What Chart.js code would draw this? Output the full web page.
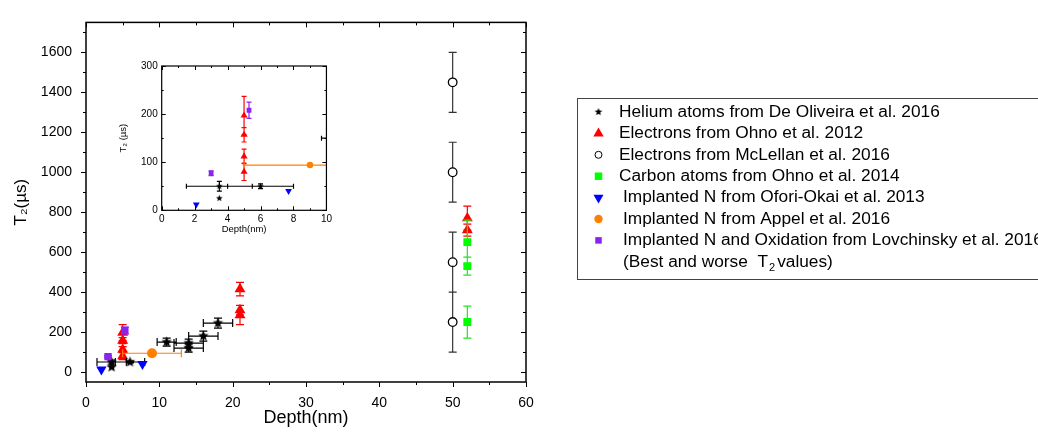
<!DOCTYPE html>
<html>
<head>
<meta charset="utf-8">
<script src="https://cdn.jsdelivr.net/npm/chart.js@4.4.1/dist/chart.umd.min.js"></script>
<style>
  body { margin: 0; background: #fff; }
  #wrap { position: relative; width: 1038px; height: 438px; }
  #main { position: absolute; left: 0; top: 0; }
  #inset { position: absolute; left: 110px; top: 55px; }
</style>
</head>
<body>
<div id="wrap">
  <canvas id="main" width="1038" height="438"></canvas>
  <canvas id="inset" width="225" height="190"></canvas>
</div>
<script>
const family = "'Liberation Sans', Arial, sans-serif";

// Helium atoms from De Oliveira et al. 2016
const heX = [3.5, 3.5, 6, 11, 14, 14, 16, 18];
const heY = [50, 25, 50, 150, 145, 120, 180, 245];
const heXErr = [2, 0, 2, 1.3, 2, 2, 2, 2];
const heYErr = [10, 0, 5, 20, 20, 20, 25, 25];
// Electrons from Ohno et al. 2012
const ohX = [5, 5, 5, 5, 21, 21, 21, 52, 52];
const ohY = [80, 112, 157, 197, 415, 310, 285, 770, 710];
const ohYErr = [18, 15, 15, 40, 34, 24, 48, 60, 30];
// Electrons from McLellan et al. 2016
const mcX = [50, 50, 50, 50];
const mcY = [1450, 1000, 550, 250];
const mcYErr = [150, 150, 150, 150];
// Carbon atoms from Ohno et al. 2014
const caX = [52, 52, 52];
const caY = [650, 530, 250];
const caYErr = [110, 45, 80];
// Implanted N from Ofori-Okai et al. 2013
const ofX = [2.1, 7.7];
const ofY = [12, 40];
// Implanted N from Appel et al. 2016
const apX = [9];
const apY = [94];
const apXErr = [4];
// Implanted N and Oxidation from Lovchinsky et al. 2016
const loX = [3, 5.3];
const loY = [77, 208];
const loYErr = [5, 17];

const legendLabels = [
  'Helium atoms from De Oliveira et al. 2016',
  'Electrons from Ohno et al. 2012',
  'Electrons from McLellan et al. 2016',
  'Carbon atoms from Ohno et al. 2014',
  'Implanted N from Ofori-Okai et al. 2013',
  'Implanted N from Appel et al. 2016',
  'Implanted N and Oxidation from Lovchinsky et al. 2016'
];

// axis ticks
const xTicks = [0, 10, 20, 30, 40, 50, 60];
const xMinor = [5, 15, 25, 35, 45, 55];
const yTicks = [0, 200, 400, 600, 800, 1000, 1200, 1400, 1600];
const yMinor = [100, 300, 500, 700, 900, 1100, 1300, 1500, 1700];
const inXTicks = [0, 2, 4, 6, 8, 10];
const inXMinor = [1, 3, 5, 7, 9];
const inYTicks = [0, 100, 200, 300];
const inYMinor = [50, 150, 250];

function pts(xs, ys, xe, ye) {
  return xs.map((x, i) => ({ x, y: ys[i], xe: xe ? xe[i] : 0, ye: ye ? ye[i] : 0 }));
}

function starImg(r) {
  const c = document.createElement('canvas');
  const s = Math.ceil(r * 2) + 2;
  c.width = c.height = s;
  const g = c.getContext('2d');
  g.fillStyle = '#000';
  g.beginPath();
  for (let i = 0; i < 10; i++) {
    const rr = i % 2 ? r * 0.45 : r;
    const a = -Math.PI / 2 + i * Math.PI / 5;
    g.lineTo(s / 2 + rr * Math.cos(a), s / 2 + rr * Math.sin(a));
  }
  g.closePath();
  g.fill();
  return c;
}

const series = [
  { data: pts(heX, heY, heXErr, heYErr), style: 'star', color: '#000', err: '#000', r: 5.5, lr: 4, order: 4 },
  { data: pts(ohX, ohY, null, ohYErr), style: 'triangle', color: '#ff0000', err: '#ff0000', r: 6.3, lr: 6, order: 6 },
  { data: pts(mcX, mcY, null, mcYErr), style: 'circle', color: '#fff', border: '#000', err: '#333', r: 4.3, lr: 3.5, order: 7 },
  { data: pts(caX, caY, null, caYErr), style: 'rect', color: '#00ff00', err: '#1ee61e', r: 5.6, lr: 5.3, order: 5 },
  { data: pts(ofX, ofY), style: 'triangle', rot: 180, color: '#0000ff', err: '#0000ff', r: 6, lr: 5.8, order: 3 },
  { data: pts(apX, apY, apXErr), style: 'circle', color: '#ff8000', err: '#ff8000', r: 5, lr: 4.2, order: 2 },
  { data: pts(loX, loY, null, loYErr), style: 'rect', color: '#8a22f0', err: '#8a22f0', r: 5.2, lr: 4.6, order: 1 }
];

function datasets(k, star) {
  return series.map((s, i) => ({
    label: legendLabels[i],
    data: s.data,
    order: s.order,
    pointStyle: s.style === 'star' ? star : s.style,
    pointRotation: s.rot || 0,
    pointRadius: s.r * k,
    pointHoverRadius: s.r * k,
    pointBackgroundColor: s.color,
    pointBorderColor: s.border || s.color,
    pointBorderWidth: s.border ? 1.3 : 0,
    errColor: s.err,
    showLine: false
  }));
}

const errorBars = {
  id: 'errorBars',
  beforeDatasetDraw(chart, args, opts) {
    const ds = chart.data.datasets[args.index];
    const { ctx, chartArea: a, scales: { x, y } } = chart;
    const c = opts.cap;
    ctx.save();
    ctx.beginPath();
    ctx.rect(a.left, a.top, a.right - a.left, a.bottom - a.top);
    ctx.clip();
    ctx.strokeStyle = ds.errColor;
    ctx.lineWidth = opts.width;
    ctx.beginPath();
    ds.data.forEach(p => {
      const px = x.getPixelForValue(p.x), py = y.getPixelForValue(p.y);
      if (p.xe) {
        const l = x.getPixelForValue(p.x - p.xe), r = x.getPixelForValue(p.x + p.xe);
        ctx.moveTo(l, py); ctx.lineTo(r, py);
        ctx.moveTo(l, py - c); ctx.lineTo(l, py + c);
        ctx.moveTo(r, py - c); ctx.lineTo(r, py + c);
      }
      if (p.ye) {
        const t = y.getPixelForValue(p.y + p.ye), b = y.getPixelForValue(p.y - p.ye);
        ctx.moveTo(px, t); ctx.lineTo(px, b);
        ctx.moveTo(px - c, t); ctx.lineTo(px + c, t);
        ctx.moveTo(px - c, b); ctx.lineTo(px + c, b);
      }
    });
    ctx.stroke();
    ctx.restore();
  }
};

// box around the plot plus major/minor ticks on all four sides
const frame = {
  id: 'frame',
  afterDraw(chart, args, o) {
    const { ctx, chartArea: a, scales: { x, y } } = chart;
    const out = o.outer ? -1 : 1;
    ctx.save();
    ctx.strokeStyle = '#000';
    ctx.lineWidth = 1;
    ctx.beginPath();
    const xt = (v, len) => {
      const p = Math.round(x.getPixelForValue(v)) + 0.5;
      ctx.moveTo(p, a.bottom); ctx.lineTo(p, a.bottom - out * len);
      ctx.moveTo(p, a.top); ctx.lineTo(p, a.top + len);
    };
    const yt = (v, len) => {
      const p = Math.round(y.getPixelForValue(v)) + 0.5;
      ctx.moveTo(a.left, p); ctx.lineTo(a.left + out * len, p);
      ctx.moveTo(a.right, p); ctx.lineTo(a.right - len, p);
    };
    o.xMajor.forEach(v => xt(v, o.len));
    o.xMinor.forEach(v => xt(v, o.minLen));
    o.yMajor.forEach(v => yt(v, o.len));
    o.yMinor.forEach(v => yt(v, o.minLen));
    ctx.stroke();
    ctx.lineWidth = o.lw;
    ctx.strokeRect(a.left, a.top, a.right - a.left, a.bottom - a.top);
    ctx.restore();
  }
};

const legendStar = starImg(4);
const legendBox = {
  id: 'legendBox',
  afterDraw(chart) {
    const ctx = chart.ctx;
    ctx.save();
    ctx.strokeStyle = '#444';
    ctx.lineWidth = 1;
    ctx.strokeRect(577.5, 98.5, 480, 181);
    ctx.font = '17.3px ' + family;
    ctx.textBaseline = 'middle';
    series.forEach((s, i) => {
      const yy = 112 + i * 21.4;
      ctx.fillStyle = s.color;
      ctx.strokeStyle = s.border || s.color;
      ctx.lineWidth = 1;
      Chart.helpers.drawPoint(ctx, {
        pointStyle: s.style === 'star' ? legendStar : s.style,
        radius: s.lr, rotation: s.rot || 0, borderWidth: s.border ? 1 : 0
      }, 598.5, yy);
      ctx.fillStyle = '#000';
      ctx.fillText(legendLabels[i], i < 4 ? 619 : 623, yy);
    });
    const yy = 112 + 7 * 21.4;
    let tx = 623;
    const first = '(Best and worse  T';
    ctx.fillText(first, tx, yy);
    tx += ctx.measureText(first).width + 1;
    ctx.font = '11px ' + family;
    ctx.fillText('2', tx, yy + 6);
    tx += ctx.measureText('2').width + 2;
    ctx.font = '17.3px ' + family;
    ctx.fillText('values)', tx, yy);
    ctx.restore();
  }
};

const tickFont = (s) => ({ size: s, family });
const plain = v => String(v);

new Chart(document.getElementById('main'), {
  type: 'scatter',
  data: { datasets: datasets(1, starImg(5.5)) },
  plugins: [errorBars, frame, legendBox],
  options: {
    responsive: false,
    animation: false,
    layout: { padding: { left: 0, top: 16, right: 512, bottom: 0 } },
    plugins: {
      legend: { display: false },
      tooltip: { enabled: false },
      errorBars: { width: 1.2, cap: 4 },
      frame: { outer: true, len: 5, minLen: 3, lw: 1.5, xMajor: xTicks, xMinor, yMajor: yTicks, yMinor }
    },
    scales: {
      x: {
        type: 'linear', min: 0, max: 60,
        afterBuildTicks: s => { s.ticks = xTicks.map(v => ({ value: v })); },
        afterFit: s => { s.height = 56; },
        grid: { display: false, drawTicks: false },
        border: { display: false },
        ticks: { color: '#000', font: tickFont(14), padding: 13, maxRotation: 0, callback: plain },
        title: { display: true, text: 'Depth(nm)', color: '#000', font: tickFont(18), padding: { top: 0, bottom: 9 } }
      },
      y: {
        type: 'linear', min: -50, max: 1750,
        afterBuildTicks: s => { s.ticks = yTicks.map(v => ({ value: v })); },
        afterFit: s => { s.width = 86; },
        grid: { display: false, drawTicks: false },
        border: { display: false },
        ticks: { color: '#000', font: tickFont(14), padding: 14, callback: plain },
        title: { display: true, text: 'T₂(µs)', color: '#000', font: tickFont(17), padding: { top: 11, bottom: 0 } }
      }
    }
  }
});

new Chart(document.getElementById('inset'), {
  type: 'scatter',
  data: { datasets: datasets(0.65, starImg(3.5)) },
  plugins: [errorBars, frame],
  options: {
    responsive: false,
    animation: false,
    layout: { padding: { left: 0, top: 11, right: 7.3, bottom: 0 } },
    plugins: {
      legend: { display: false },
      tooltip: { enabled: false },
      errorBars: { width: 1.2, cap: 2.5 },
      frame: { outer: false, len: 4, minLen: 2, lw: 1.2, xMajor: inXTicks, xMinor: inXMinor, yMajor: inYTicks, yMinor: inYMinor }
    },
    scales: {
      x: {
        type: 'linear', min: 0, max: 10,
        afterBuildTicks: s => { s.ticks = inXTicks.map(v => ({ value: v })); },
        afterFit: s => { s.height = 34.7; },
        grid: { display: false, drawTicks: false },
        border: { display: false },
        ticks: { color: '#000', font: tickFont(10), padding: 3, maxRotation: 0, callback: plain },
        title: { display: true, text: 'Depth(nm)', color: '#000', font: tickFont(9.5), padding: { top: 0, bottom: 10 } }
      },
      y: {
        type: 'linear', min: 0, max: 300,
        afterBuildTicks: s => { s.ticks = inYTicks.map(v => ({ value: v })); },
        afterFit: s => { s.width = 51.7; },
        grid: { display: false, drawTicks: false },
        border: { display: false },
        ticks: { color: '#000', font: tickFont(10), padding: 4, callback: plain },
        title: { display: true, text: 'T₂ (µs)', color: '#000', font: tickFont(9.5), padding: { top: 8, bottom: 0 } }
      }
    }
  }
});
</script>
</body>
</html>
